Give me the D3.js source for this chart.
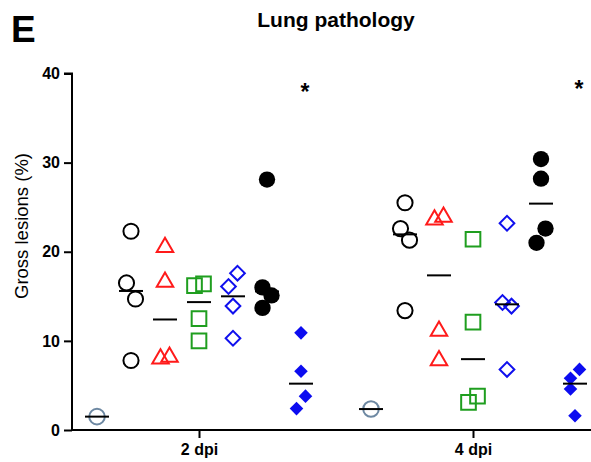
<!DOCTYPE html>
<html>
<head>
<meta charset="utf-8">
<script src="https://cdn.jsdelivr.net/npm/d3@7"></script>
<style>
  html, body { margin: 0; padding: 0; background: #fff; }
  svg { display: block; font-family: "Liberation Sans", Arial, sans-serif; }
</style>
</head>
<body>
<svg id="chart" width="591" height="462"></svg>
<script>
// ---- data ----
const timepoints = ["2 dpi", "4 dpi"];
const groupKeys = ["mock", "openCircle", "triangle", "square", "openDiamond", "filledCircle", "filledDiamond"];
const mock          = [[1.5], [2.35]];
const openCircle    = [[22.3, 16.5, 14.7, 7.8], [25.5, 22.6, 21.3, 13.4]];
const triangle      = [[20.5, 16.6, 8.0, 8.2], [23.6, 23.9, 11.1, 7.8]];
const square        = [[16.2, 16.4, 12.5, 10.0], [21.4, 12.1, 3.1, 3.8]];
const openDiamond   = [[16.1, 17.6, 13.9, 10.3], [23.2, 14.3, 13.9, 6.8]];
const filledCircle  = [[28.1, 16.0, 15.1, 13.7], [30.4, 28.2, 21.0, 22.6]];
const filledDiamond = [[10.9, 6.6, 2.4, 3.8], [5.8, 6.8, 4.6, 1.6]];
const yTicks = [0, 10, 20, 30, 40];
const starMarks = [["2 dpi", "filledDiamond"], ["4 dpi", "filledDiamond"]];
const titleText = "Lung pathology";
const panelLetter = "E";
const yLabel = "Gross lesions (%)";

const seriesValues = { mock, openCircle, triangle, square, openDiamond, filledCircle, filledDiamond };

// ---- styles ----
const styles = {
  mock:          { type: d3.symbolCircle,   size: 190, fill: "none",    stroke: "#6d88a2", sw: 2 },
  openCircle:    { type: d3.symbolCircle,   size: 180, fill: "none",    stroke: "#000",    sw: 2 },
  triangle:      { type: d3.symbolTriangle, size: 118, fill: "none",    stroke: "#ff1a1a", sw: 2 },
  square:        { type: d3.symbolSquare,   size: 215, fill: "none",    stroke: "#1f9e1f", sw: 2 },
  openDiamond:   { type: d3.symbolSquare,   size: 108, fill: "none",    stroke: "#1010ee", sw: 2, rot: 45 },
  filledCircle:  { type: d3.symbolCircle,   size: 210, fill: "#000",    stroke: "none",    sw: 0 },
  filledDiamond: { type: d3.symbolSquare,   size: 92,  fill: "#0c0cf0", stroke: "none",    sw: 0, rot: 45 }
};

const svg = d3.select("#chart");
const plot = { left: 72, top: 73.5, bottom: 430, right: 591 };

const y = d3.scaleLinear().domain([0, 40]).range([plot.bottom, plot.top]);
const x = d3.scalePoint().domain(timepoints).range([199, 473]);
const xg = d3.scalePoint().domain(groupKeys).range([-102, 102]);

// ---- axes ----
const yAxis = d3.axisLeft(y).tickValues(yTicks).tickSize(8).tickPadding(4).tickFormat(d3.format("d"));
const gy = svg.append("g").attr("transform", `translate(${plot.left},0)`).call(yAxis);
gy.select(".domain").attr("d", `M-8,${plot.top}H0V${plot.bottom}H0`).attr("stroke-width", 2).attr("stroke", "#000");
gy.selectAll(".tick line").attr("stroke-width", 2);
gy.selectAll(".tick text").attr("font-size", 16).attr("font-weight", "bold").attr("fill", "#000")
  .attr("font-family", "Liberation Sans, Arial, sans-serif");

const xAxis = d3.axisBottom(x).tickSize(8).tickPadding(6);
const gx = svg.append("g").attr("transform", `translate(0,${plot.bottom})`).call(xAxis);
gx.select(".domain").attr("d", `M${plot.left},0H${plot.right}`).attr("stroke-width", 2).attr("stroke", "#000");
gx.selectAll(".tick line").attr("stroke-width", 2);
gx.selectAll(".tick text").attr("font-size", 16).attr("font-weight", "bold").attr("fill", "#000")
  .attr("font-family", "Liberation Sans, Arial, sans-serif");

// ---- points with simple vertical-overlap dodge ----
const threshold = 18, step = 4.5;
function layout(values) {
  const py = values.map(v => y(v));
  const n = values.length;
  const parent = d3.range(n);
  const find = i => parent[i] === i ? i : (parent[i] = find(parent[i]));
  for (let i = 0; i < n; i++) for (let j = i + 1; j < n; j++)
    if (Math.abs(py[i] - py[j]) < threshold) parent[find(i)] = find(j);
  const clusters = d3.group(d3.range(n), i => find(i));
  const off = new Array(n).fill(0);
  for (const members of clusters.values()) {
    if (members.length < 2) continue;
    members.sort((a, b) => a - b).forEach((m, k) => { off[m] = (k % 2 === 0 ? -1 : 1) * step; });
  }
  return values.map((v, i) => ({ v, dx: off[i] }));
}

const pts = svg.append("g");
const medians = svg.append("g");
timepoints.forEach((tp, ti) => {
  groupKeys.forEach(g => {
    const vals = seriesValues[g][ti];
    const st = styles[g];
    const cx = x(tp) + xg(g);
    const sym = d3.symbol().type(st.type).size(st.size);
    pts.selectAll(null).data(layout(vals)).enter().append("path")
      .attr("d", sym)
      .attr("transform", d => `translate(${cx + d.dx},${y(d.v)})` + (st.rot ? ` rotate(${st.rot})` : ""))
      .attr("fill", st.fill).attr("stroke", st.stroke).attr("stroke-width", st.sw);
    const med = d3.median(vals);
    medians.append("line")
      .attr("x1", cx - 12).attr("x2", cx + 12)
      .attr("y1", y(med)).attr("y2", y(med))
      .attr("stroke", "#000").attr("stroke-width", 2);
  });
});

// ---- significance stars ----
svg.append("g").selectAll("text").data(starMarks).enter().append("text")
  .attr("x", d => x(d[0]) + xg(d[1]) + 4)
  .attr("y", (d, i) => y(37.3) + (i === 0 ? 2 : -1))
  .attr("text-anchor", "middle").attr("font-size", 23).attr("font-weight", "bold")
  .text("*");

// ---- texts ----
svg.append("text").attr("x", 336).attr("y", 27).attr("text-anchor", "middle")
  .attr("font-size", 21).attr("font-weight", "bold").text(titleText);
svg.append("text").attr("x", 11).attr("y", 42)
  .attr("font-size", 37).attr("font-weight", "bold").text(panelLetter);
svg.append("text")
  .attr("transform", `translate(28,226) rotate(-90)`)
  .attr("text-anchor", "middle").attr("font-size", 18.5).text(yLabel);
</script>
</body>
</html>
